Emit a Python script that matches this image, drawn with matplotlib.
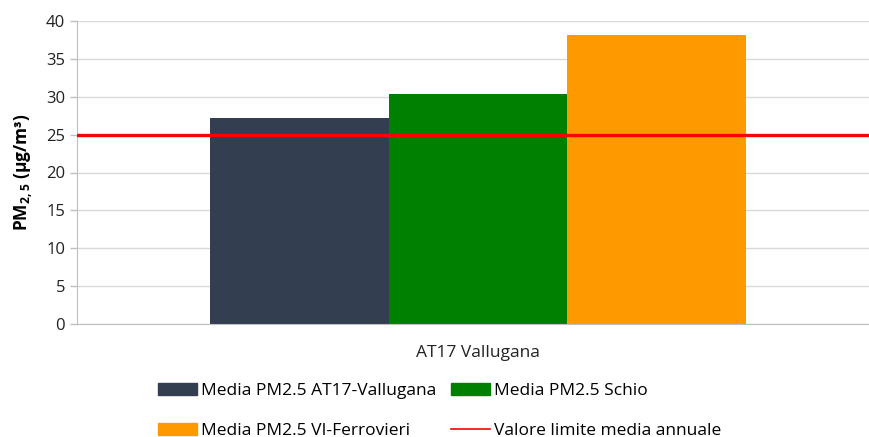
import matplotlib.pyplot as plt
from matplotlib.patches import Patch
from matplotlib.lines import Line2D

plt.rcParams['font.family'] = ['Open Sans', 'DejaVu Sans']
plt.rcParams['mathtext.fontset'] = 'custom'
plt.rcParams['mathtext.rm'] = 'Open Sans'
plt.rcParams['mathtext.bf'] = 'Open Sans:bold'

# data
category = 'AT17 Vallugana'
series = ['Media PM2.5 AT17-Vallugana', 'Media PM2.5 Schio', 'Media PM2.5 VI-Ferrovieri']
values = [27.2, 30.4, 38.1]
colors = ['#333f50', '#008000', '#ff9900']
limit = 25
limit_label = 'Valore limite media annuale'

fig = plt.figure(figsize=(8.7, 4.37), dpi=100)
ax = fig.add_axes([77 / 870, 1 - 324 / 437, 793 / 870, 303 / 437])

w = 1 / 3
for i, (v, c) in enumerate(zip(values, colors)):
    ax.bar((i - 1) * w, v, width=w, color=c, zorder=2)
ax.axhline(limit, color='#ff0000', lw=2.4, zorder=3)

ax.set_xlim(-0.748, 0.731)
ax.set_ylim(0, 40)
ax.set_yticks(range(0, 41, 5))
ax.set_xticks([0])
ax.set_xticklabels([category])
ax.tick_params(axis='x', length=0, pad=15, labelsize=12.5, colors='#222222')
ax.tick_params(axis='y', length=5, width=1, color='#bfbfbf', labelsize=12, colors='#222222')
ax.yaxis.grid(True, color='#d9d9d9', lw=1)
ax.set_axisbelow(True)
for s in ['top', 'right']:
    ax.spines[s].set_visible(False)
ax.spines['left'].set_color('#bfbfbf')
ax.spines['bottom'].set_color('#bfbfbf')
ax.set_ylabel(r'PM$_{\mathbf{2,5}}$ (µg/m³)', fontsize=12.5, fontweight='bold', labelpad=8)

handles = [Patch(color=colors[0]), Patch(color=colors[2]),
           Patch(color=colors[1]), Line2D([0], [0], color='#ff0000', lw=1.2)]
labels = [series[0], series[2], series[1], limit_label]
fig.legend(handles, labels, ncol=2, frameon=False, fontsize=12.5,
           loc='upper left', bbox_to_anchor=(158 / 870, 1 - 383 / 437),
           borderpad=0, borderaxespad=0,
           handlelength=2.25, handleheight=0.7, handletextpad=0.25,
           columnspacing=0.8, labelspacing=1.35)

fig.savefig('out.png', dpi=100)
